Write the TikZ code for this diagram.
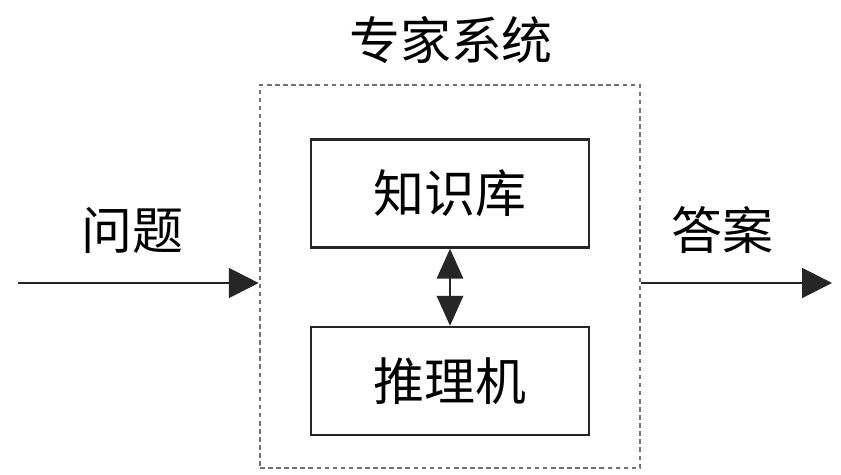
\documentclass[tikz,border=0pt]{standalone}
\usepackage{fontspec}
\newfontfamily\cjk{Noto Sans CJK SC}
\usetikzlibrary{arrows.meta}
\tikzset{
    lab/.style={
        font=\cjk\fontsize{29}{35}\selectfont, inner sep=0pt
    },
    blk/.style={
        draw=black!85, line width=1.4pt, minimum width=278*0.02cm,
        minimum height=108*0.02cm, lab
    },
    sysbox/.style={
        draw=black!55, line width=1.5pt, dash pattern=on 2.6pt off 2.0pt,
        minimum width=380*0.02cm, minimum height=383*0.02cm
    },
    flow/.style={
        line width=1.1pt, draw=black!85,
        -{Triangle[length=17pt,width=17pt]}
    }
}

\begin{document}
\begin{tikzpicture}[x=0.02cm,y=-0.02cm,line join=miter]

% --- frame ---
    \useasboundingbox (0,0) rectangle (841,474);

% expert system (dotted frame)
    \node[sysbox] (sys) at (450,276.5) {};
    \node[lab] (title) at (451,40) {专家系统};

% inner blocks
    \node[blk] (kb)  at (450,193.5) {知识库};
    \node[blk] (eng) at (450,381)   {推理机};

% link between blocks
    \draw[line width=1.1pt, draw=black!85,
          {Triangle[length=17pt,width=15pt]}-{Triangle[length=17pt,width=15pt]}]
          (kb.south) -- (eng.north);

% input and output
    \coordinate (inL)  at (18,283);
    \coordinate (outR) at (832,283);
    \draw[flow] (inL) -- (inL -| sys.west);
    \draw[flow] (outR -| sys.east) -- (outR);

% labels
    \node[lab] (qst) at (132,230) {问题};
    \node[lab] (ans) at (722,230) {答案};

\end{tikzpicture}
\end{document}
